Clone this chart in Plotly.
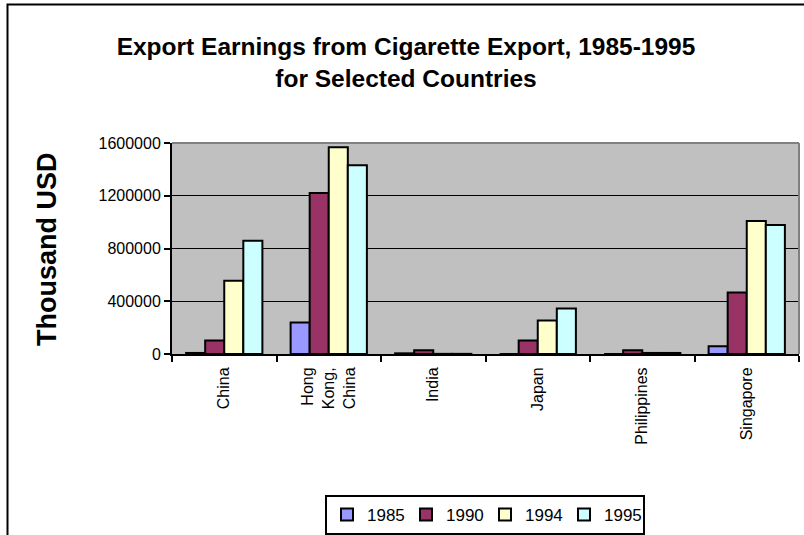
import plotly.graph_objects as go

categories = ["China", "Hong<br>Kong,<br>China", "India", "Japan", "Philippines", "Singapore"]
years = ["1985", "1990", "1994", "1995"]
v1985 = [8000, 239000, 5000, 0, 0, 58000]
v1990 = [103000, 1220000, 28000, 103000, 28000, 466000]
v1994 = [556000, 1567000, 1000, 254000, 8000, 1009000]
v1995 = [858000, 1432000, 1000, 345000, 8000, 979000]
colors = ["#9999FF", "#993366", "#FFFFCC", "#CCFFFF"]
yticks = [0, 400000, 800000, 1200000, 1600000]

W, H = 804, 535
L, R, T, B = 172, 799, 143, 354
pw, ph = R - L, B - T

def px_x(x):
    return (x - L) / pw

def px_y(y):
    return (B - y) / ph

FONT = "Liberation Sans, Arial, sans-serif"

fig = go.Figure()
for name, vals, c in zip(years, [v1985, v1990, v1994, v1995], colors):
    fig.add_trace(go.Bar(x=categories, y=vals, name=name,
                         marker=dict(color=c, line=dict(color="black", width=2))))

fig.update_layout(
    width=W, height=H,
    margin=dict(l=L, r=W - R, t=T, b=H - B, autoexpand=False),
    paper_bgcolor="white", plot_bgcolor="#C0C0C0",
    barmode="group", bargap=0.27, bargroupgap=0,
    font=dict(family=FONT, size=16, color="black"),
    title=dict(text="<b>Export Earnings from Cigarette Export, 1985-1995<br>for Selected Countries</b>",
               x=406 / W, xref="container", xanchor="center",
               y=1 - 55 / H, yref="container", yanchor="middle",
               font=dict(size=24.5, family=FONT, color="black")),
    showlegend=True,
    legend=dict(orientation="h", x=px_x(485), y=px_y(495), xanchor="center", yanchor="top",
                bordercolor="black", borderwidth=2, bgcolor="white",
                font=dict(size=17), itemsizing="constant", traceorder="normal",
                itemwidth=30, entrywidth=34, entrywidthmode="pixels", tracegroupgap=0),
)
fig.update_xaxes(showline=True, linecolor="black", linewidth=2, ticks="outside", ticklen=6,
                 tickwidth=1.5, tickcolor="black", tickson="boundaries", tickangle=-90,
                 showgrid=False, fixedrange=True, ticklabelstandoff=5,
                 tickfont=dict(size=16))
fig.update_yaxes(range=[0, 1600000], tickvals=yticks, ticktext=[str(v) for v in yticks],
                 showline=True, linecolor="black", linewidth=2, ticks="outside", ticklen=6,
                 tickwidth=1.5, tickcolor="black", showgrid=True, gridcolor="black", gridwidth=1,
                 zeroline=False, fixedrange=True)

fig.add_annotation(text="<b>Thousand USD</b>", textangle=-90, xref="paper", yref="paper",
                   x=px_x(47), y=px_y(249), showarrow=False, xanchor="center", yanchor="middle",
                   font=dict(size=27, family=FONT, color="black"))

# plot area top/right grey edges
fig.add_shape(type="line", xref="paper", yref="paper", x0=0, x1=1, y0=1, y1=1,
              line=dict(color="#808080", width=2), layer="above")
fig.add_shape(type="line", xref="paper", yref="paper", x0=1, x1=1, y0=0, y1=1,
              line=dict(color="#808080", width=2), layer="above")
# chart border
fig.add_shape(type="rect", xref="paper", yref="paper", x0=px_x(7.5), x1=px_x(812),
              y0=px_y(545), y1=px_y(4.5), line=dict(color="black", width=2), layer="above")

fig.write_html("out.html")
